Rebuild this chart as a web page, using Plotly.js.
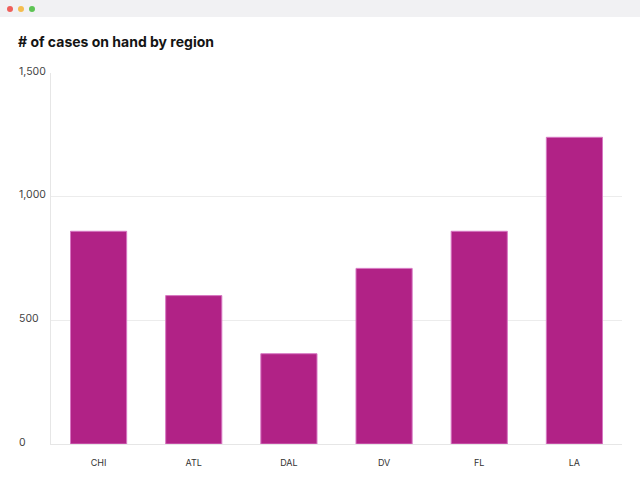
<!DOCTYPE html>
<html>
<head>
<meta charset="utf-8">
<script src="https://cdn.plot.ly/plotly-3.0.1.min.js"></script>
<style>
  html, body { margin: 0; padding: 0; background: #ffffff; }
  #wrap { position: relative; width: 640px; height: 487px; overflow: hidden; }
  #chart { position: absolute; left: 0; top: 0; width: 640px; height: 487px; }
  #bar { position: absolute; left: 0; top: 0; width: 640px; height: 17px; background: #f1f1f3; z-index: 5; }
  .dot { position: absolute; top: 6px; width: 6px; height: 6px; border-radius: 50%; }
</style>
</head>
<body>
<div id="wrap">
  <div id="chart"></div>
  <div id="bar">
    <div class="dot" style="left:7px;background:#ee5f5b;"></div>
    <div class="dot" style="left:18px;background:#f4bd4f;"></div>
    <div class="dot" style="left:29px;background:#5ec454;"></div>
  </div>
</div>
<script>
const regions = ["CHI", "ATL", "DAL", "DV", "FL", "LA"];
const casesOnHand = [860, 600, 365, 710, 860, 1240];
const yTickValues = [0, 500, 1000, 1500];
const chartTitle = "# of cases on hand by region";

const trace = {
  type: "bar",
  x: regions,
  y: casesOnHand,
  marker: { color: "#b12286", line: { color: "#d777c2", width: 1 } },
  hoverinfo: "x+y"
};

const yLabelAnnotations = yTickValues.map(v => ({
  xref: "paper", yref: "y",
  x: -0.0595, y: v,
  xanchor: "left", yanchor: "middle",
  yshift: 2,
  text: v.toLocaleString("en-US"),
  showarrow: false,
  font: { family: "Inter, 'Open Sans', sans-serif", size: 10.5, color: "#444444" }
}));

const layout = {
  width: 640, height: 487,
  margin: { l: 51, r: 18, t: 73, b: 43 },
  paper_bgcolor: "#ffffff",
  plot_bgcolor: "#ffffff",
  showlegend: false,
  bargap: 0.41,
  title: {
    text: "<b>" + chartTitle + "</b>",
    x: 18 / 640, xanchor: "left", xref: "container",
    y: 1 - 42 / 487, yanchor: "middle", yref: "container",
    font: { family: "Inter, 'Open Sans', sans-serif", size: 14, color: "#141414" }
  },
  xaxis: {
    showgrid: false,
    zeroline: false,
    showline: true,
    linecolor: "#e6e6e6",
    linewidth: 1,
    ticks: "",
    ticklabelstandoff: 10,
    tickfont: { family: "Inter, 'Open Sans', sans-serif", size: 9, color: "#333333" }
  },
  yaxis: {
    range: [0, 1500],
    tickvals: yTickValues,
    showticklabels: false,
    showgrid: true,
    gridcolor: "#ececec",
    gridwidth: 1,
    zeroline: false,
    showline: true,
    linecolor: "#e6e6e6",
    linewidth: 1,
    ticks: ""
  },
  annotations: yLabelAnnotations
};

Plotly.newPlot("chart", [trace], layout, { displayModeBar: false, staticPlot: true });
</script>
</body>
</html>
